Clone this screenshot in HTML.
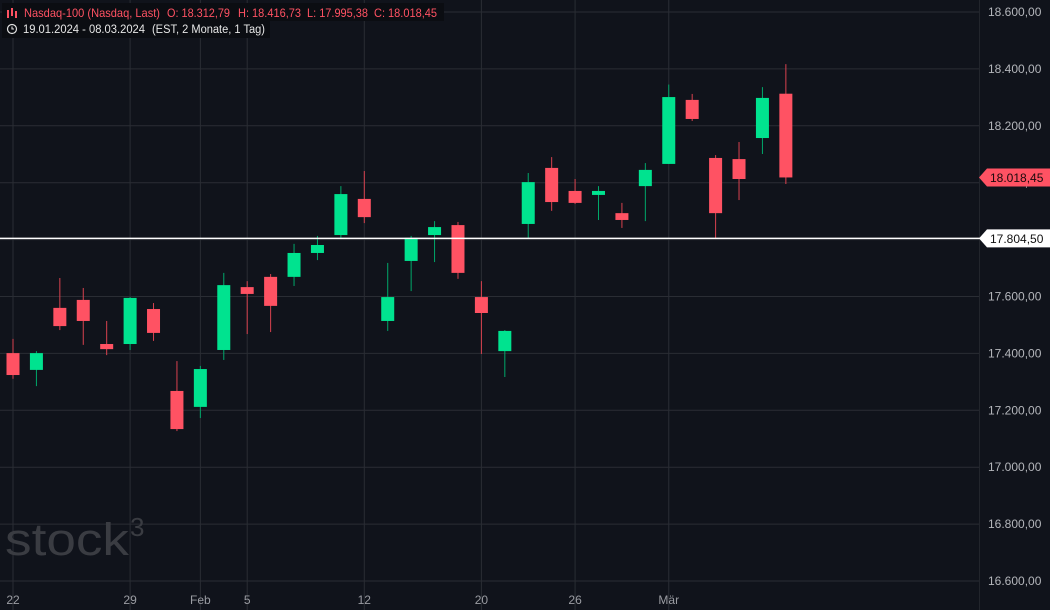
<!DOCTYPE html>
<html><head><meta charset="utf-8">
<style>
html,body{margin:0;padding:0;background:#10131b;}
svg{display:block;font-family:"Liberation Sans","DejaVu Sans",sans-serif;}
</style></head>
<body>
<svg id="chart" width="1050" height="610" viewBox="0 0 1050 610">
<rect x="0" y="0" width="1050" height="610" fill="#10131b"/>
<g id="grid"></g>
<text x="5" y="555" font-size="45" fill="#3a3c42" textLength="124" lengthAdjust="spacingAndGlyphs">stock</text>
<text x="130" y="536" font-size="26" fill="#3a3c42">3</text>
<g id="candles"></g>
<g id="axes"></g>
<g>
<rect x="2" y="3" width="442" height="18" fill="#0b0d12"/>
<g fill="#ff5263">
<rect x="7" y="10" width="2" height="8"/><rect x="11" y="8" width="2" height="8"/><rect x="15" y="11" width="2" height="7"/>
</g>
<text x="24" y="17" font-size="12" fill="#ff5263" textLength="136" lengthAdjust="spacingAndGlyphs">Nasdaq-100 (Nasdaq, Last)</text>
<text x="167" y="17" font-size="12" fill="#ff5263" textLength="63" lengthAdjust="spacingAndGlyphs">O: 18.312,79</text>
<text x="238" y="17" font-size="12" fill="#ff5263" textLength="63" lengthAdjust="spacingAndGlyphs">H: 18.416,73</text>
<text x="307" y="17" font-size="12" fill="#ff5263" textLength="61" lengthAdjust="spacingAndGlyphs">L: 17.995,38</text>
<text x="374" y="17" font-size="12" fill="#ff5263" textLength="63" lengthAdjust="spacingAndGlyphs">C: 18.018,45</text>
<rect x="2" y="21" width="268" height="17" fill="#0b0d12"/>
<circle cx="12" cy="29" r="4.5" fill="none" stroke="#e0e0e0" stroke-width="1.2"/>
<path d="M12 26.5V29h2" fill="none" stroke="#e0e0e0" stroke-width="1.1"/>
<text x="23" y="33" font-size="11.5" fill="#e6e6e6" textLength="122" lengthAdjust="spacingAndGlyphs">19.01.2024 - 08.03.2024</text>
<text x="152" y="33" font-size="11.5" fill="#e6e6e6" textLength="113" lengthAdjust="spacingAndGlyphs">(EST, 2 Monate, 1 Tag)</text>
</g>
</svg>
<script>
const dates=["22","23","24","25","26","29","30","31","Feb","2","5","6","7","8","9","12","13","14","15","16","20","21","22","23","26","27","28","29","Mär","4","5","6","7","8"];
const opens=[17401,17342,17560,17588,17433,17433,17556,17268,17212,17412,17633,17669,17669,17753,17816,17943,17514,17725,17816,17851,17598,17408,17855,18052,17971,17957,17893,17988,18066,18291,18087,18083,18157,18312.79];
const highs=[17451,17408,17665,17630,17514,17598,17577,17373,17356,17683,17654,17679,17785,17813,17988,18041,17718,17813,17865,17862,17654,17482,18034,18090,18013,17988,17929,18069,18345,18312,18097,18143,18336,18416.73];
const lows=[17311,17285,17482,17430,17394,17412,17444,17127,17173,17377,17468,17475,17637,17728,17802,17858,17479,17619,17721,17662,17398,17317,17806,17901,17925,17869,17841,17865,18066,18217,17802,17939,18101,17995.38];
const closes=[17324,17401,17496,17514,17415,17595,17472,17134,17345,17640,17609,17567,17753,17781,17960,17879,17598,17806,17844,17683,17542,17479,18002,17932,17929,17971,17869,18045,18301,18224,17893,18013,18298,18018.45];
const xLabelIdx=[0,5,8,10,15,20,24,28];
const yTicks=[16600,16800,17000,17200,17400,17600,17800,18000,18200,18400,18600];
const refPrice=17804.5;
const NS="http://www.w3.org/2000/svg";
const X=i=>13+i*23.42;
const Y=p=>12+(18600-p)*0.2845;
const fmt=v=>{const s=v.toFixed(2).split('.');return s[0].replace(/\B(?=(\d{3})+(?!\d))/g,'.')+','+s[1];};
function mk(t,a,parent){const e=document.createElementNS(NS,t);for(const k in a)e.setAttribute(k,a[k]);parent.appendChild(e);return e;}
const grid=document.getElementById('grid'),cg=document.getElementById('candles'),ax=document.getElementById('axes');
yTicks.forEach(v=>{const l=mk('line',{x1:0,x2:979,y1:Y(v),y2:Y(v),stroke:'#2a2d34','stroke-width':1},grid);


const t=mk('text',{x:988,y:Y(v)+4,'font-size':12,fill:'#b4b6bb'},ax);t.textContent=fmt(v);

});
xLabelIdx.forEach(i=>{const l=mk('line',{x1:X(i),x2:X(i),y1:0,y2:610,stroke:'#2a2d34','stroke-width':1},grid);


const t=mk('text',{x:X(i),y:604,'font-size':12,fill:'#9a9ca2','text-anchor':'middle'},ax);t.textContent=dates[i];

});
mk('line',{x1:979.5,x2:979.5,y1:0,y2:610,stroke:'#22252c'},ax);
for(let i=0;i<opens.length;i++){const up=closes[i]>=opens[i];const c=up?'#00e38f':'#ff5263';const wc=up?'#00a86a':'#d9424f';
const w=mk('line',{x1:X(i),x2:X(i),y1:Y(highs[i]),y2:Y(lows[i]),stroke:wc,'stroke-width':1},cg);


const top=Y(Math.max(opens[i],closes[i])),bot=Y(Math.min(opens[i],closes[i]));
const r=mk('rect',{x:X(i)-6.5,y:top,width:13,height:Math.max(1,bot-top),fill:c},cg);

}
const ry=Y(refPrice);
const rl=mk('line',{x1:0,x2:980,y1:ry,y2:ry,stroke:'#ffffff','stroke-width':1.5},ax);


function tag(p,bg,fg,name){const y=Y(p);const g=mk('g',{},ax);


mk('path',{d:`M979 ${y} L987 ${y-9} H1050 V${y+9} H987 Z`,fill:bg},g);
const t=mk('text',{x:990,y:y+4.5,'font-size':12,fill:fg},g);t.textContent=fmt(p);}
tag(closes[closes.length-1],'#ff5263','#1a0a0c','last-price-tag');
tag(refPrice,'#ffffff','#111','reference-price-tag');
</script>
</body></html>
